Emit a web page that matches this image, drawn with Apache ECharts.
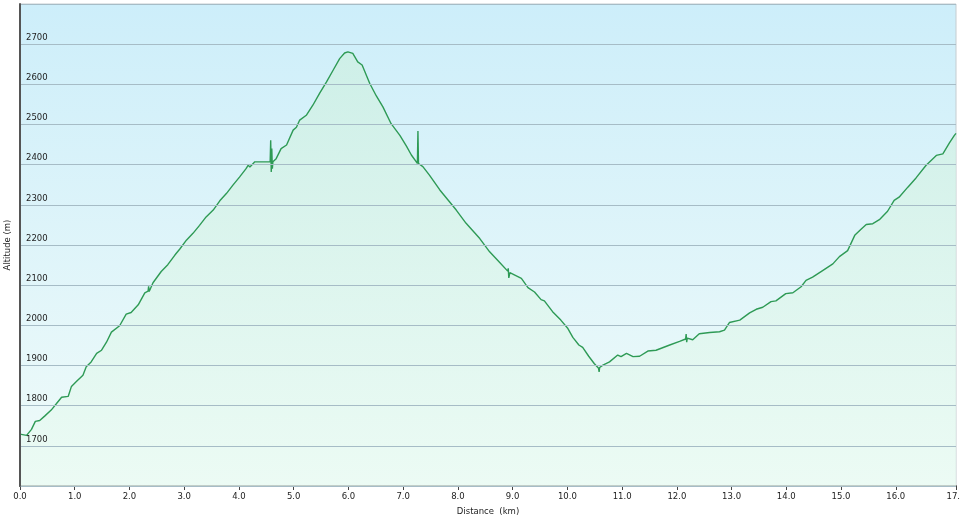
<!DOCTYPE html>
<html>
<head>
<meta charset="utf-8">
<script src="https://cdn.jsdelivr.net/npm/echarts@6/dist/echarts.min.js"></script>
<style>
html,body{margin:0;padding:0;background:#fff;}
#chart{width:960px;height:521px;}
</style>
</head>
<body>
<div id="chart"></div>
<script>
var distKm = [0,0.12,0.21,0.28,0.36,0.45,0.57,0.66,0.76,0.88,0.94,1.03,1.15,1.21,1.30,1.40,1.49,1.58,1.67,1.82,1.94,2.03,2.16,2.28,2.34,2.35,2.36,2.43,2.58,2.70,2.83,2.92,3.04,3.16,3.28,3.40,3.53,3.65,3.77,3.89,4.01,4.13,4.17,4.20,4.29,4.53,4.57,4.58,4.59,4.60,4.61,4.62,4.68,4.77,4.87,4.99,5.05,5.11,5.23,5.35,5.47,5.60,5.72,5.84,5.93,5.99,6.02,6.08,6.17,6.25,6.39,6.51,6.63,6.78,6.94,7.06,7.15,7.26,7.27,7.28,7.36,7.48,7.67,7.85,7.97,8.15,8.40,8.58,8.76,8.91,8.92,8.93,8.95,9.04,9.16,9.28,9.40,9.52,9.58,9.73,9.88,10.01,10.10,10.21,10.28,10.39,10.49,10.57,10.58,10.59,10.65,10.77,10.92,10.98,11.08,11.20,11.32,11.47,11.62,11.87,12.05,12.16,12.17,12.18,12.19,12.29,12.41,12.60,12.78,12.87,12.96,13.15,13.33,13.45,13.57,13.72,13.81,13.99,14.12,14.27,14.36,14.48,14.67,14.85,14.97,15.12,15.25,15.37,15.46,15.58,15.70,15.85,15.97,16.06,16.22,16.37,16.55,16.74,16.86,16.98,17.07,17.10];
var altM = [1729,1726,1741,1761,1763,1774,1789,1804,1821,1823,1848,1860,1876,1897,1909,1930,1938,1958,1983,1999,2028,2032,2051,2081,2085,2097,2084,2106,2134,2151,2175,2190,2212,2229,2249,2270,2287,2310,2328,2349,2369,2390,2399,2394,2407,2407,2407,2461,2382,2440,2390,2407,2415,2440,2449,2486,2493,2511,2523,2548,2577,2606,2635,2664,2678,2681,2678,2677,2656,2648,2602,2571,2544,2502,2473,2446,2424,2403,2484,2403,2395,2374,2337,2307,2287,2254,2216,2183,2157,2135,2142,2118,2131,2125,2117,2094,2083,2064,2061,2034,2013,1992,1970,1951,1945,1923,1905,1893,1884,1895,1901,1909,1926,1922,1930,1922,1923,1936,1938,1951,1960,1966,1978,1958,1968,1964,1979,1982,1984,1988,2007,2013,2031,2040,2045,2059,2061,2079,2081,2096,2112,2120,2137,2153,2171,2186,2224,2240,2251,2253,2263,2284,2311,2319,2344,2367,2398,2423,2427,2454,2473,2478];
var xTicks = [0,1,2,3,4,5,6,7,8,9,10,11,12,13,14,15,16,17.1];
var yMin = 1600, yMax = 2800, yStep = 100;
var xTitle = 'Distance  (km)';
var yTitle = 'Altitude (m)';

var pts = distKm.map(function(d, i){ return [d, altM[i]]; });
var chart = echarts.init(document.getElementById('chart'), null, {renderer:'canvas'});
var FONT = 'DejaVu Sans';
chart.setOption({
  animation: false,
  backgroundColor: '#ffffff',
  grid: {
    left: 20, right: 4, top: 4, bottom: 35,
    outerBoundsMode: 'none', containLabel: false,
    show: true,
    borderColor: '#c4ccd0', borderWidth: 1,
    backgroundColor: {
      type: 'linear', x: 0, y: 0, x2: 0, y2: 1,
      colorStops: [{offset: 0, color: '#cdeefa'}, {offset: 1, color: '#f0fbf9'}]
    }
  },
  xAxis: {
    type: 'value', min: 0, max: 17.1,
    name: xTitle, nameLocation: 'middle', nameGap: 21,
    nameTextStyle: {fontFamily: FONT, fontSize: 8.5, color: '#222'},
    axisLine: {show: true, lineStyle: {color: '#666', width: 2}},
    axisTick: {show: true, length: 4, customValues: xTicks, lineStyle: {color: '#444'}},
    axisLabel: {customValues: xTicks, fontFamily: FONT, fontSize: 8.5, color: '#222', margin: 6,
      formatter: function(v){ return Number(v).toFixed(1); }},
    splitLine: {show: false}
  },
  yAxis: {
    type: 'value', min: yMin, max: yMax, interval: yStep, z: 5,
    name: yTitle, nameLocation: 'middle', nameGap: 4, nameRotate: 90,
    nameTextStyle: {fontFamily: FONT, fontSize: 8.5, color: '#222'},
    axisLine: {show: true, lineStyle: {color: '#555', width: 2}},
    axisTick: {show: false},
    axisLabel: {inside: true, margin: 6, verticalAlign: 'bottom', padding: [0,0,2,0],
      fontFamily: FONT, fontSize: 8.5, color: '#222',
      showMinLabel: false, showMaxLabel: false,
      formatter: function(v){ return String(v); }},
    splitLine: {show: true, lineStyle: {color: '#a6bcc6', width: 1}}
  },
  series: [{
    type: 'line', data: pts, showSymbol: false, symbol: 'none', z: 2,
    lineStyle: {color: '#2e9a55', width: 1.4},
    areaStyle: {
      color: {type: 'linear', x: 0, y: 0, x2: 0, y2: 1,
        colorStops: [{offset: 0, color: '#cdefe0'}, {offset: 1, color: '#eafbf2'}]}
    }
  }]
});
</script>
</body>
</html>
